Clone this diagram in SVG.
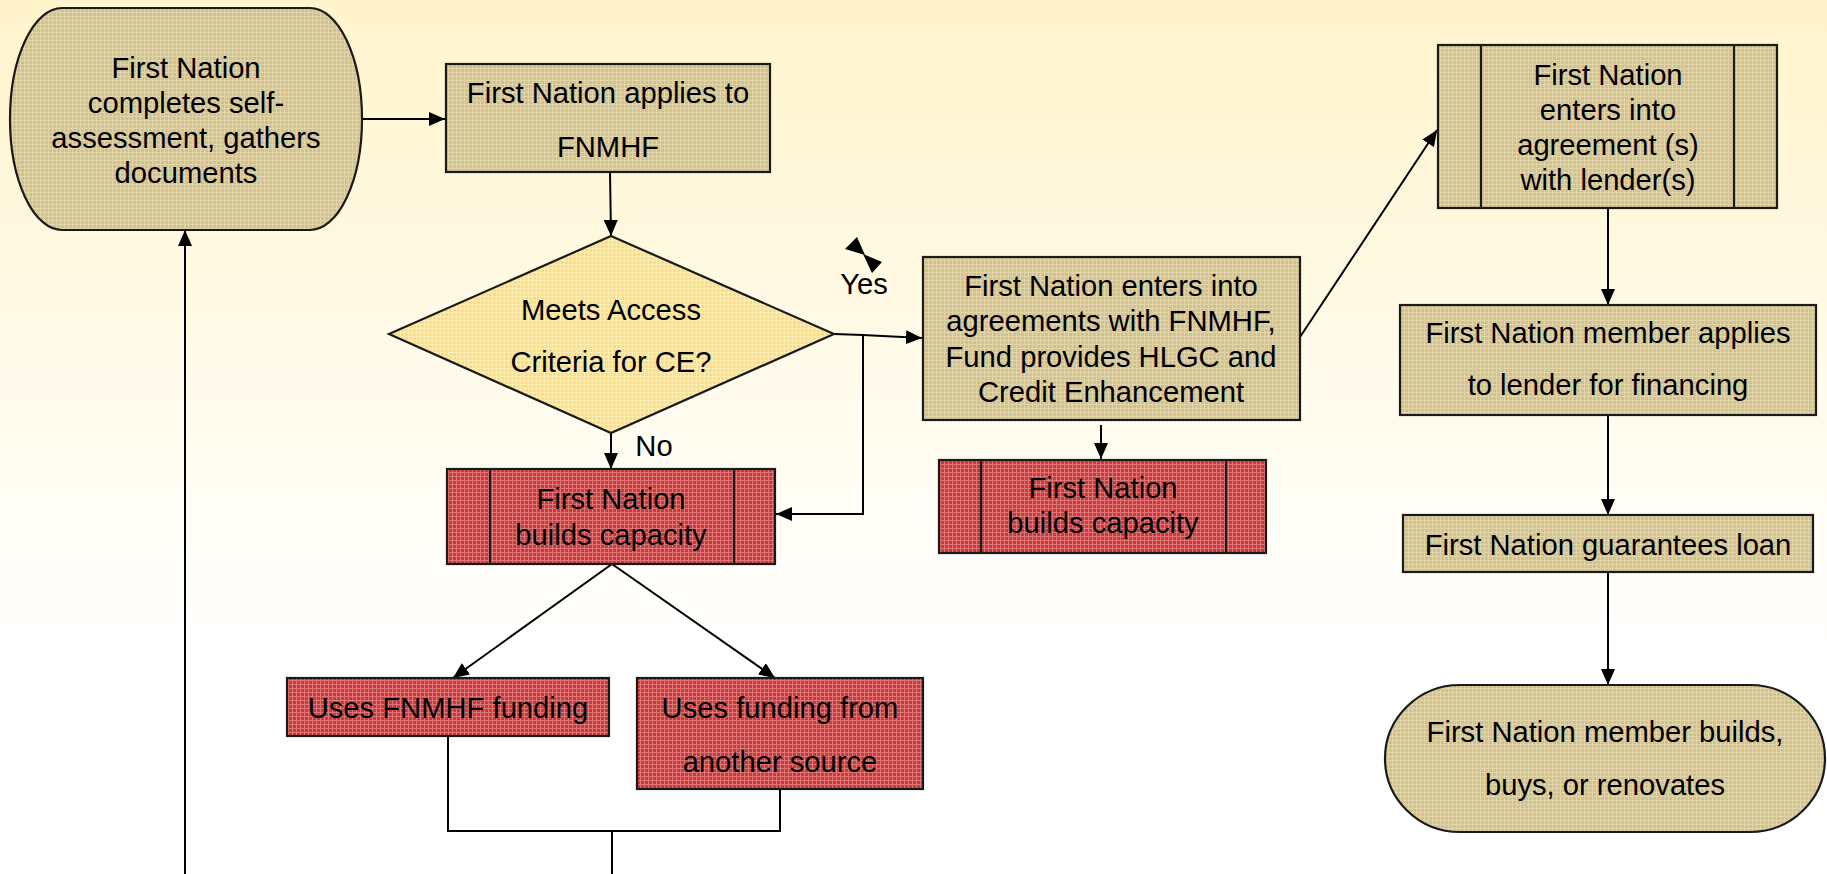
<svg xmlns="http://www.w3.org/2000/svg" width="1827" height="874" viewBox="0 0 1827 874">
<style>
text{font-family:"Liberation Sans",Arial,sans-serif;font-size:29.2px;fill:#000;text-anchor:middle}
.box{stroke:#1a1a1a;stroke-width:2.2}
.tan{fill:url(#pTan)}
.red{fill:url(#pRed)}
.yel{fill:url(#pYel)}
.in{stroke:#1a1a1a;stroke-width:2.2;fill:none}
.c{stroke:#000;stroke-width:2;fill:none}
.ca{stroke:#000;stroke-width:2;fill:none;marker-end:url(#ah)}
</style>
<defs>
<linearGradient id="bg" x1="0" y1="0" x2="0" y2="1">
<stop offset="0" stop-color="#FFF4CB"/>
<stop offset="0.5" stop-color="#FFFCF0"/>
<stop offset="0.75" stop-color="#FFFFFF"/>
<stop offset="1" stop-color="#FFFFFF"/>
</linearGradient>
<pattern id="pTan" width="4" height="4" patternUnits="userSpaceOnUse">
<rect width="4" height="4" fill="#D2C18A"/>
<rect width="4" height="1" fill="#E1D4A8"/>
<rect width="1" height="4" fill="#E1D4A8"/>
</pattern>
<pattern id="pRed" width="4" height="4" patternUnits="userSpaceOnUse">
<rect width="4" height="4" fill="#C93B3B"/>
<rect width="4" height="1" fill="#E07474"/>
<rect width="1" height="4" fill="#E07474"/>
</pattern>
<pattern id="pYel" width="4" height="4" patternUnits="userSpaceOnUse">
<rect width="4" height="4" fill="#F9DF80"/>
<rect width="4" height="1" fill="#FDEDB2"/>
<rect width="1" height="4" fill="#FDEDB2"/>
</pattern>
<marker id="ah" viewBox="0 0 16 14" refX="16" refY="7" markerWidth="16" markerHeight="14" markerUnits="userSpaceOnUse" orient="auto">
<path d="M0,0 L16,7 L0,14 Z" fill="#000"/>
</marker>
</defs>
<rect x="0" y="0" width="1827" height="874" fill="url(#bg)"/>

<g id="connectors">
<line class="ca" x1="362" y1="119" x2="445" y2="119"/>
<line class="ca" x1="610" y1="172" x2="611" y2="236"/>
<line class="ca" x1="611" y1="433" x2="611" y2="469"/>
<polyline class="ca" points="834,334 863,335 922,338"/>
<polyline class="ca" points="863,335 863,514 776,514"/>
<line class="ca" x1="1101" y1="425" x2="1101" y2="459"/>
<line class="ca" x1="1300" y1="337" x2="1437" y2="130"/>
<line class="ca" x1="1608" y1="208" x2="1608" y2="305"/>
<line class="ca" x1="1608" y1="415" x2="1608" y2="515"/>
<line class="ca" x1="1608" y1="572" x2="1608" y2="685"/>
<line class="ca" x1="612" y1="564" x2="453" y2="678"/>
<line class="ca" x1="612" y1="564" x2="775" y2="678"/>
<polyline class="c" points="448,736 448,831 780,831 780,789"/>
<line class="c" x1="612" y1="831" x2="612" y2="874"/>
<line class="ca" x1="185" y1="874" x2="185" y2="230"/>
<polygon points="845,249 857,237 865,255" fill="#000"/>
<polygon points="863,254 882,262 872,273" fill="#000"/>
</g>

<g id="n1">
<rect class="box tan" x="10" y="8" width="352" height="222" rx="52" ry="111"/>
<text x="186" y="78">First Nation</text>
<text x="186" y="113">completes self-</text>
<text x="186" y="148">assessment, gathers</text>
<text x="186" y="183">documents</text>
</g>

<g id="n2">
<rect class="box tan" x="446" y="64" width="324" height="108"/>
<text x="608" y="103">First Nation applies to</text>
<text x="608" y="157">FNMHF</text>
</g>

<g id="n3">
<polygon class="box yel" points="611,236 834,334 611,433 389,334"/>
<text x="611" y="320">Meets Access</text>
<text x="611" y="372">Criteria for CE?</text>
</g>

<g id="lbl-yes"><text x="864" y="294">Yes</text></g>
<g id="lbl-no"><text x="654" y="456">No</text></g>

<g id="n4">
<rect class="box red" x="447" y="469" width="328" height="95"/>
<line class="in" x1="490" y1="469" x2="490" y2="564"/>
<line class="in" x1="734" y1="469" x2="734" y2="564"/>
<text x="611" y="509">First Nation</text>
<text x="611" y="545">builds capacity</text>
</g>

<g id="n5">
<rect class="box tan" x="923" y="257" width="377" height="163"/>
<text x="1111" y="296">First Nation enters into</text>
<text x="1111" y="331">agreements with FNMHF,</text>
<text x="1111" y="367">Fund provides HLGC and</text>
<text x="1111" y="402">Credit Enhancement</text>
</g>

<g id="n6">
<rect class="box red" x="939" y="460" width="327" height="93"/>
<line class="in" x1="981" y1="460" x2="981" y2="553"/>
<line class="in" x1="1226" y1="460" x2="1226" y2="553"/>
<text x="1103" y="498">First Nation</text>
<text x="1103" y="533">builds capacity</text>
</g>

<g id="n7">
<rect class="box red" x="287" y="678" width="322" height="58"/>
<text x="448" y="718">Uses FNMHF funding</text>
</g>

<g id="n8">
<rect class="box red" x="637" y="678" width="286" height="111"/>
<text x="780" y="718">Uses funding from</text>
<text x="780" y="772">another source</text>
</g>

<g id="n9">
<rect class="box tan" x="1438" y="45" width="339" height="163"/>
<line class="in" x1="1481" y1="45" x2="1481" y2="208"/>
<line class="in" x1="1734" y1="45" x2="1734" y2="208"/>
<text x="1608" y="85">First Nation</text>
<text x="1608" y="120">enters into</text>
<text x="1608" y="155">agreement (s)</text>
<text x="1608" y="190">with lender(s)</text>
</g>

<g id="n10">
<rect class="box tan" x="1400" y="305" width="416" height="110"/>
<text x="1608" y="343">First Nation member applies</text>
<text x="1608" y="395">to lender for financing</text>
</g>

<g id="n11">
<rect class="box tan" x="1403" y="515" width="410" height="57"/>
<text x="1608" y="555">First Nation guarantees loan</text>
</g>

<g id="n12">
<rect class="box tan" x="1385" y="685" width="440" height="147" rx="75" ry="73.5"/>
<text x="1605" y="742">First Nation member builds,</text>
<text x="1605" y="795">buys, or renovates</text>
</g>
</svg>
